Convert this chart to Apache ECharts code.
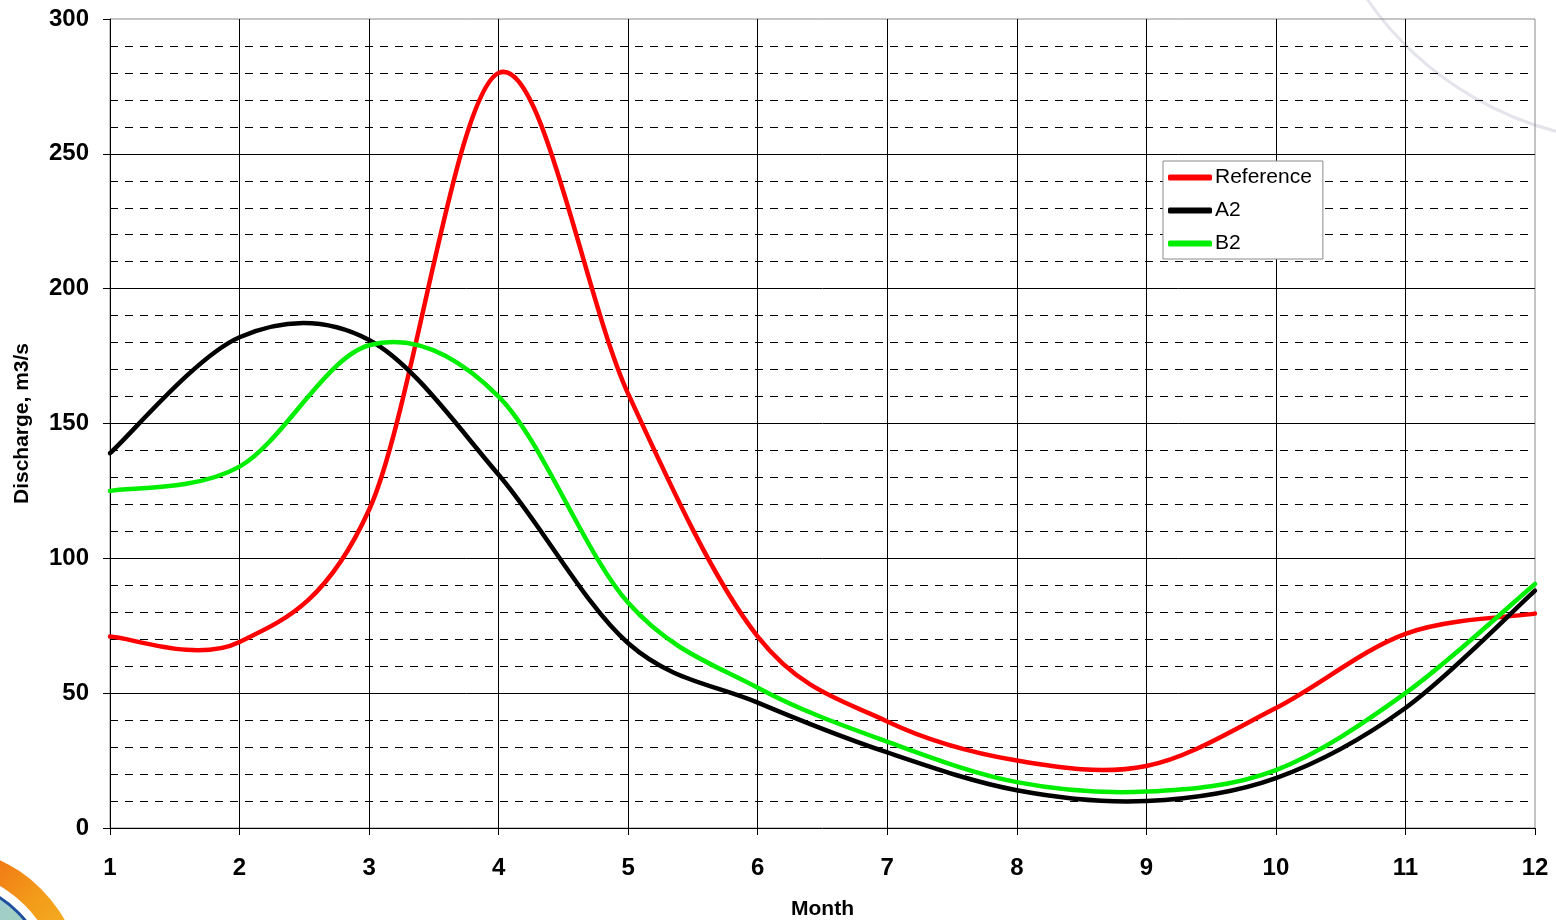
<!DOCTYPE html>
<html>
<head>
<meta charset="utf-8">
<script src="https://cdn.jsdelivr.net/npm/echarts@6/dist/echarts.min.js"></script>
<style>
html,body{margin:0;padding:0;background:#fff;}
#chart{width:1556px;height:920px;}
</style>
</head>
<body>
<div id="chart"></div>
<script>
// Data
var months = [1, 2, 3, 4, 5, 6, 7, 8, 9, 10, 11, 12];
var referenceValues = [71, 69, 118, 280, 161, 71, 39.5, 25, 23, 44.5, 72, 79.5];
var a2Values = [139, 182, 181, 131, 68.5, 46.5, 28, 14, 10, 18.5, 44.5, 88];
var b2Values = [125, 134, 179, 160, 83.5, 52, 32, 17, 13.5, 21.5, 50, 90.5];
var seriesNames = ['Reference', 'A2', 'B2'];
var seriesColors = ['#ff0000', '#000000', '#00ee00'];
var xAxisTitle = 'Month';
var yAxisTitle = 'Discharge, m3/s';

function pairs(xs, ys) {
  return xs.map(function (x, i) { return [x, ys[i]]; });
}

// Spreadsheet-style smoothed line (Catmull-Rom as cubic Bezier) drawn through
// points converted by the chart's own axes (api.coord).
function splineSeries(name, values, color) {
  var data = pairs(months, values);
  return {
    type: 'custom',
    name: name,
    coordinateSystem: 'cartesian2d',
    data: data,
    encode: {x: 0, y: 1},
    itemStyle: {color: color},
    z: 3,
    renderItem: function (params, api) {
      if (params.dataIndex !== 0) { return null; }
      var p = data.map(function (d) { return api.coord(d); });
      var n = p.length;
      var d = 'M' + p[0][0] + ' ' + p[0][1];
      for (var i = 0; i < n - 1; i++) {
        var p0 = p[Math.max(i - 1, 0)];
        var p1 = p[i];
        var p2 = p[i + 1];
        var p3 = p[Math.min(i + 2, n - 1)];
        var c1x = p1[0] + (p2[0] - p0[0]) / 6;
        var c1y = p1[1] + (p2[1] - p0[1]) / 6;
        var c2x = p2[0] - (p3[0] - p1[0]) / 6;
        var c2y = p2[1] - (p3[1] - p1[1]) / 6;
        d += ' C' + c1x + ' ' + c1y + ' ' + c2x + ' ' + c2y + ' ' + p2[0] + ' ' + p2[1];
      }
      return {
        type: 'path',
        shape: {pathData: d},
        style: {fill: 'none', stroke: color, lineWidth: 4.5, lineJoin: 'round', lineCap: 'round'}
      };
    }
  };
}

var chart = echarts.init(document.getElementById('chart'), null, {renderer: 'canvas'});
var FONT = '"Liberation Sans", Arial, sans-serif';

var option = {
  backgroundColor: '#ffffff',
  animation: false,
  grid: {
    left: 110, right: 21, top: 19, bottom: 92,
    containLabel: false,
    outerBoundsMode: 'none',
    show: true,
    borderColor: '#8a8a8a',
    borderWidth: 1,
    backgroundColor: 'transparent'
  },
  legend: {
    orient: 'vertical',
    left: 1163, top: 161,
    padding: [6, 11, 5, 5],
    itemGap: 12,
    itemWidth: 44,
    itemHeight: 6,
    icon: 'roundRect',
    backgroundColor: '#ffffff',
    borderColor: '#8a8a8a',
    borderWidth: 1,
    borderRadius: 0,
    textStyle: {fontFamily: FONT, fontSize: 21, color: '#000', padding: [0, 0, 0, -2]},
    data: seriesNames
  },
  xAxis: {
    type: 'value',
    min: 1, max: 12, interval: 1,
    name: xAxisTitle,
    nameLocation: 'middle',
    nameGap: 71,
    nameTextStyle: {fontFamily: FONT, fontSize: 21, fontWeight: 'bold', color: '#000'},
    axisLine: {show: true, onZero: false, lineStyle: {color: '#000', width: 1}},
    axisTick: {show: true, length: 7, inside: false, lineStyle: {color: '#000'}},
    axisLabel: {fontFamily: FONT, fontSize: 24, fontWeight: 'bold', color: '#000', margin: 28},
    splitLine: {show: true, showMinLine: false, showMaxLine: false, lineStyle: {color: '#000', width: 1}}
  },
  yAxis: {
    type: 'value',
    min: 0, max: 300, interval: 50,
    name: yAxisTitle,
    nameLocation: 'middle',
    nameRotate: 90,
    nameGap: 77,
    nameTextStyle: {fontFamily: FONT, fontSize: 21, fontWeight: 'bold', color: '#000'},
    axisLine: {show: true, onZero: false, lineStyle: {color: '#000', width: 1}},
    axisTick: {show: true, length: 7, inside: false, lineStyle: {color: '#000'}},
    axisLabel: {fontFamily: FONT, fontSize: 24, fontWeight: 'bold', color: '#000', margin: 21},
    splitLine: {show: true, showMinLine: false, showMaxLine: false, lineStyle: {color: '#000', width: 1}},
    minorTick: {show: false, splitNumber: 5},
    minorSplitLine: {show: true, lineStyle: {color: '#000', width: 1, type: [8, 7]}}
  },
  series: [
    splineSeries(seriesNames[0], referenceValues, seriesColors[0]),
    splineSeries(seriesNames[1], a2Values, seriesColors[1]),
    splineSeries(seriesNames[2], b2Values, seriesColors[2])
  ],
  graphic: [
    {
      type: 'arc', z: -10, silent: true,
      shape: {cx: 1640, cy: -190, r: 332, startAngle: 1.6, endAngle: 2.6, clockwise: true},
      style: {stroke: '#e4e4ec', lineWidth: 3, fill: null}
    },
    {
      type: 'sector', z: -10, silent: true,
      shape: {cx: -60, cy: 990, r: 143, r0: 120, startAngle: -Math.PI / 2, endAngle: 0},
      style: {
        fill: new echarts.graphic.LinearGradient(0, 0, 1, 1, [
          {offset: 0, color: '#ee5a10'},
          {offset: 0.5, color: '#f39a1a'},
          {offset: 1, color: '#f3c52a'}
        ])
      }
    },
    {
      type: 'sector', z: -10, silent: true,
      shape: {cx: -60, cy: 990, r: 110, r0: 0, startAngle: -Math.PI / 2, endAngle: 0},
      style: {
        fill: new echarts.graphic.LinearGradient(0, 0, 1, 1, [
          {offset: 0, color: '#9cc6e8'},
          {offset: 1, color: '#a8d8a0'}
        ]),
        stroke: '#1d4f9e', lineWidth: 3
      }
    }
  ]
};
chart.setOption(option);
</script>
</body>
</html>
